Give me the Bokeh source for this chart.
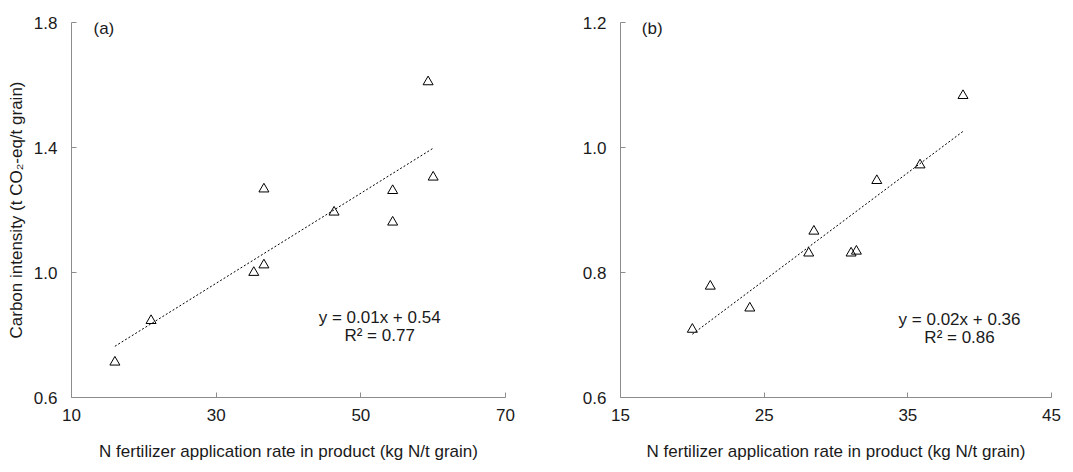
import numpy as np
from bokeh.plotting import figure
from bokeh.layouts import row
from bokeh.models import Range1d, FixedTicker, Label
from bokeh.embed import file_html
from bokeh.resources import INLINE

# ---- data ----
a_x = [16.0, 21.0, 35.2, 36.6, 36.6, 46.3, 54.4, 54.4, 59.3, 60.0]
a_y = [0.713, 0.846, 1.000, 1.024, 1.267, 1.193, 1.262, 1.161, 1.610, 1.305]
b_x = [20.0, 21.25, 24.0, 28.1, 28.46, 31.05, 31.42, 32.84, 35.85, 38.84]
b_y = [0.709, 0.778, 0.743, 0.831, 0.866, 0.831, 0.834, 0.947, 0.972, 1.083]

a_xticks = [10, 30, 50, 70]
a_yticks = [0.6, 1.0, 1.4, 1.8]
b_xticks = [15, 25, 35, 45]
b_yticks = [0.6, 0.8, 1.0, 1.2]
a_ytick_labels = ["0.6", "1.0", "1.4", "1.8"]
b_ytick_labels = ["0.6", "0.8", "1.0", "1.2"]

a_eq = ["y = 0.01x + 0.54", "R\u00b2 = 0.77"]
b_eq = ["y = 0.02x + 0.36", "R\u00b2 = 0.86"]
panel_tags = ["(a)", "(b)"]

x_title = "N fertilizer application rate in product (kg N/t grain)"
y_title = "Carbon intensity (t CO\u2082-eq/t grain)"

FONT = "Liberation Sans"
FS = "17px"
TXT = "#1a1a1a"
AX = "#8c8c8c"


def make_panel(xs, ys, xticks, yticks, ylabels, eq, tag, eq_pos, tag_pos,
               fw, min_left, min_right, ylab):
    p = figure(output_backend="svg", toolbar_location=None,
               frame_width=fw, frame_height=375,
               min_border_left=min_left, min_border_right=min_right,
               min_border_top=22, min_border_bottom=67,
               x_range=Range1d(xticks[0], xticks[-1]),
               y_range=Range1d(yticks[0], yticks[-1]),
               background_fill_color="white", border_fill_color="white")
    p.outline_line_color = None
    p.grid.visible = False
    for ax in (p.xaxis[0], p.yaxis[0]):
        ax.axis_line_color = AX
        ax.major_tick_line_color = AX
        ax.major_tick_in = 5
        ax.major_tick_out = 0
        ax.minor_tick_line_color = None
        ax.major_label_text_font = FONT
        ax.major_label_text_font_size = FS
        ax.major_label_text_color = TXT
        ax.axis_label_text_font = FONT
        ax.axis_label_text_font_size = FS
        ax.axis_label_text_font_style = "normal"
        ax.axis_label_text_color = TXT
    p.xaxis.ticker = FixedTicker(ticks=xticks)
    p.yaxis.ticker = FixedTicker(ticks=yticks)
    p.yaxis.major_label_overrides = {t: l for t, l in zip(yticks, ylabels)}
    p.xaxis.major_label_overrides = {t: str(t) for t in xticks}
    p.xaxis.major_label_standoff = 11
    p.yaxis.major_label_standoff = 14
    p.xaxis.axis_label = x_title
    p.xaxis.axis_label_standoff = 18
    if ylab:
        p.yaxis.axis_label = y_title
        p.yaxis.axis_label_standoff = 5

    # trend line (least squares fit of the data)
    k, b0 = np.polyfit(xs, ys, 1)
    lx = [min(xs), max(xs)]
    ly = [k * v + b0 for v in lx]
    p.line(lx, ly, line_color="black", line_width=1, line_dash="2 2")

    p.scatter(xs, ys, marker="triangle", size=10, fill_color=None,
              line_color="black", line_width=1)

    p.add_layout(Label(x=eq_pos[0], y=eq_pos[1], text=eq[0], text_align="center",
                       text_baseline="middle", text_font=FONT,
                       text_font_size=FS, text_color=TXT))
    p.add_layout(Label(x=eq_pos[0], y=eq_pos[2], text=eq[1], text_align="center",
                       text_baseline="middle", text_font=FONT,
                       text_font_size=FS, text_color=TXT))
    p.add_layout(Label(x=tag_pos[0], y=tag_pos[1], text=tag, text_align="left",
                       text_baseline="middle", text_font=FONT,
                       text_font_size=FS, text_color=TXT))
    return p


pa = make_panel(a_x, a_y, a_xticks, a_yticks, a_ytick_labels, a_eq, panel_tags[0],
                (52.6, 0.856, 0.798), (13.04, 1.782), 434, 71, 30, True)
pb = make_panel(b_x, b_y, b_xticks, b_yticks, b_ytick_labels, b_eq, panel_tags[1],
                (38.6, 0.725, 0.696), (16.48, 1.191), 431, 85, 12, False)

layout = row(pa, pb, spacing=0)
open("out.html", "w").write(file_html(layout, INLINE))
